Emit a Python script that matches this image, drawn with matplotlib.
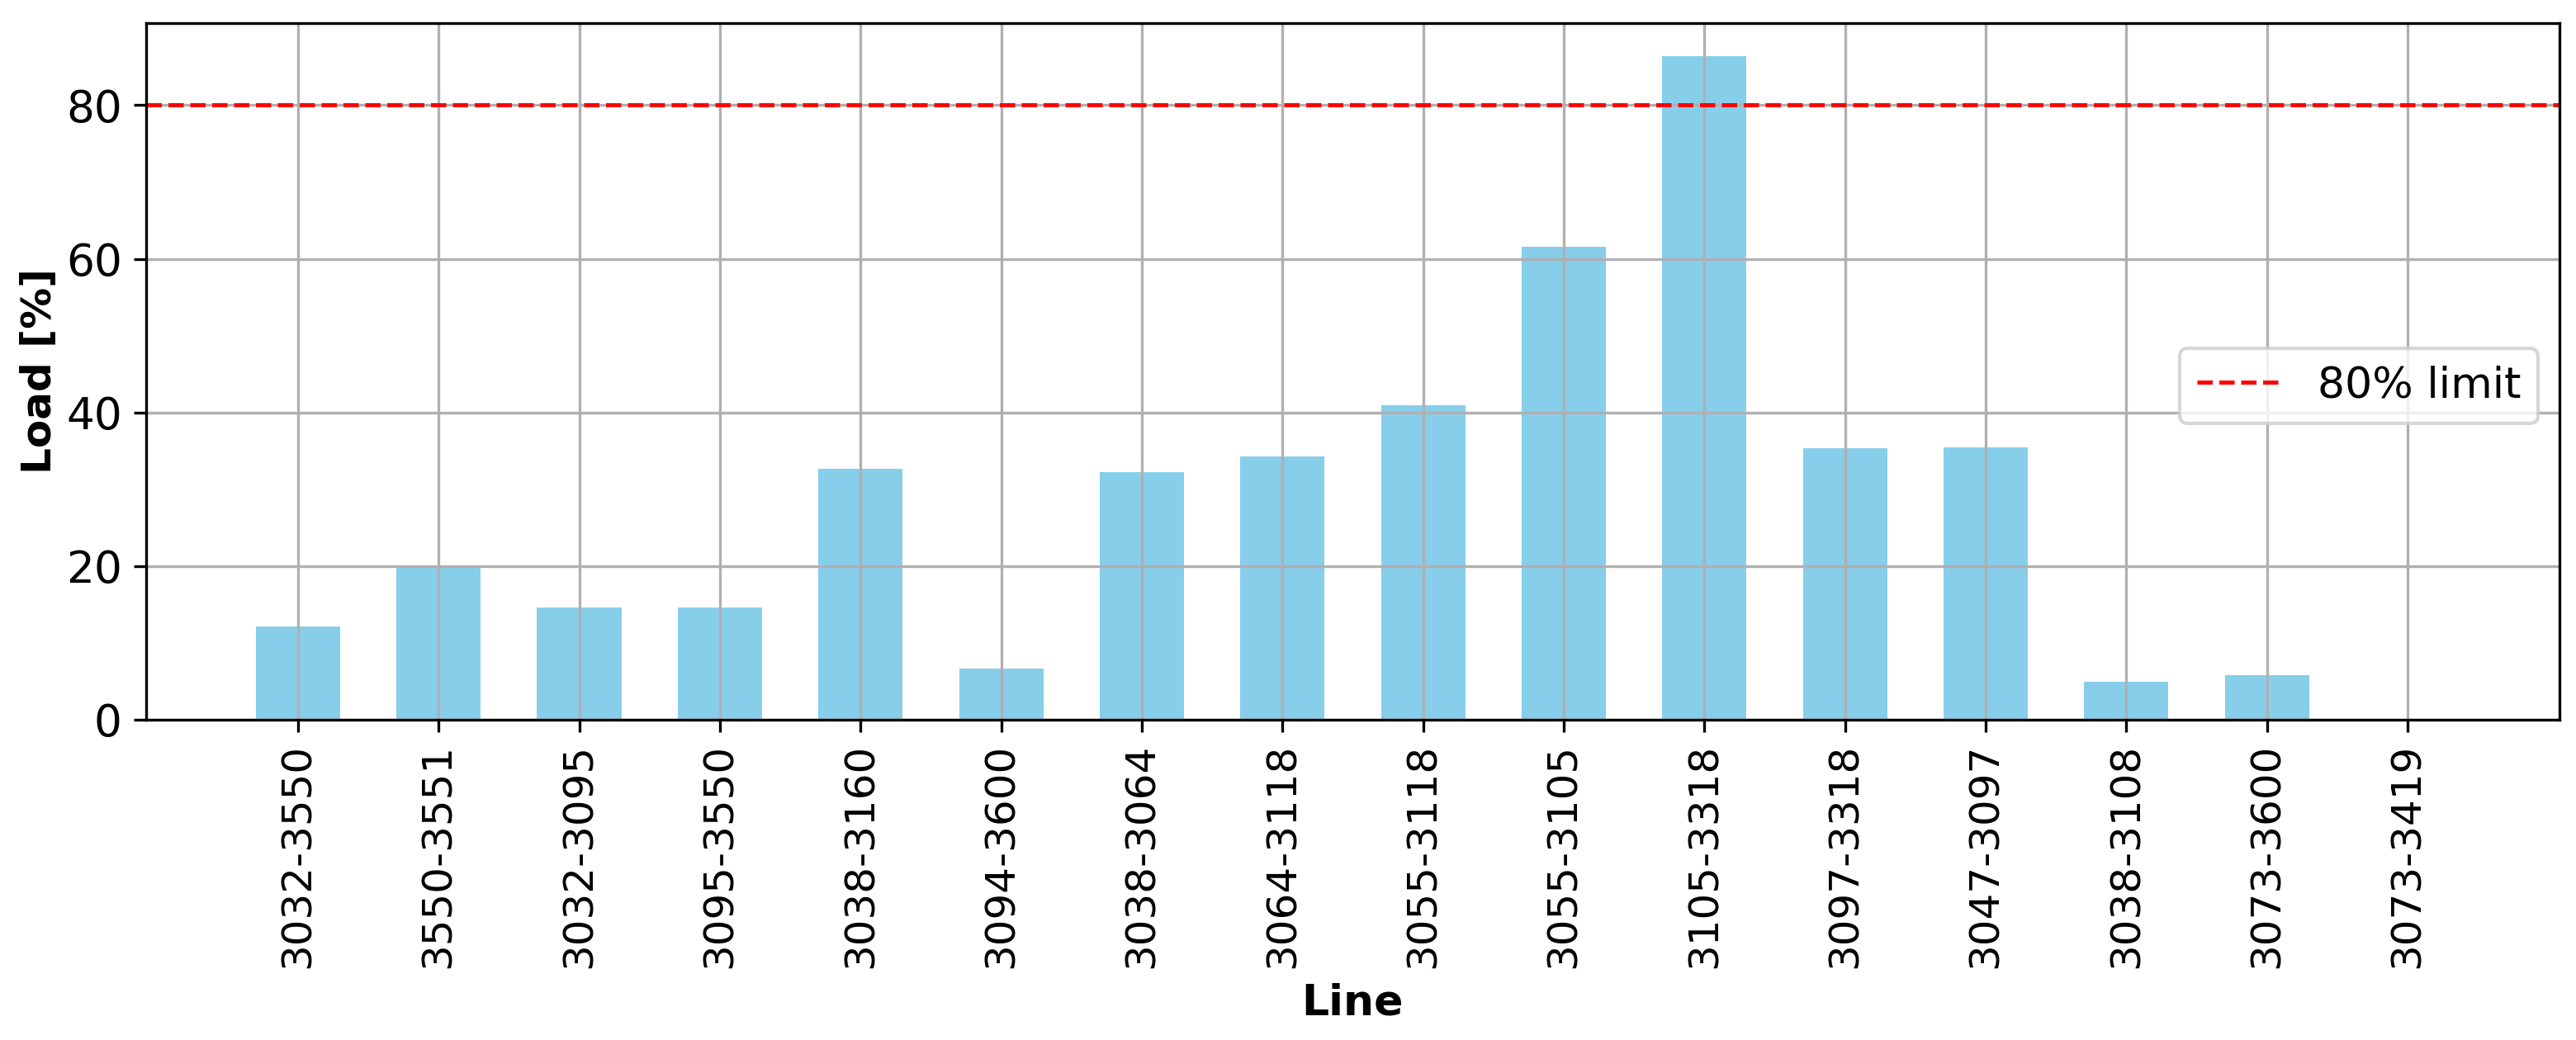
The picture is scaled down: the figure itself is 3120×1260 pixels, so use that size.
#!/usr/bin/env python3
"""Line loading bar chart with 80% limit."""

import matplotlib
matplotlib.use("Agg")
import matplotlib.pyplot as plt
import numpy as np

# Data
lines = ["3032-3550", "3550-3551", "3032-3095", "3095-3550", "3038-3160",
         "3094-3600", "3038-3064", "3064-3118", "3055-3118", "3055-3105",
         "3105-3318", "3097-3318", "3047-3097", "3038-3108", "3073-3600",
         "3073-3419"]
load_pct = [12.1, 20.0, 14.6, 14.6, 32.7, 6.7, 32.2, 34.3, 40.9, 61.6,
            86.4, 35.3, 35.5, 4.9, 5.8, 0.1]
LIMIT = 80


def main():
    fig = plt.figure(figsize=(10.4, 4.2), dpi=300)
    ax = fig.add_axes([0.0567, 0.308, 0.9369, 0.670])

    x = np.arange(len(lines))
    ax.bar(x, load_pct, width=0.6, color="skyblue")
    ax.axhline(LIMIT, color="red", linestyle="--", linewidth=1.2, label="80% limit")

    ax.set_xticks(x)
    ax.set_xticklabels(lines, rotation=90, fontsize=12)
    ax.tick_params(axis="y", labelsize=12.8)
    ax.set_yticks([0, 20, 40, 60, 80])
    ax.set_xlabel("Line", fontsize=12.5, fontweight="bold")
    ax.set_ylabel("Load [%]", fontsize=12, fontweight="bold", labelpad=2)
    ax.grid(True)
    ax.legend(loc="center right", bbox_to_anchor=(1.0, 0.479), fontsize=12.5)

    fig.savefig("out.png", dpi=300)
    plt.close(fig)


if __name__ == "__main__":
    main()
